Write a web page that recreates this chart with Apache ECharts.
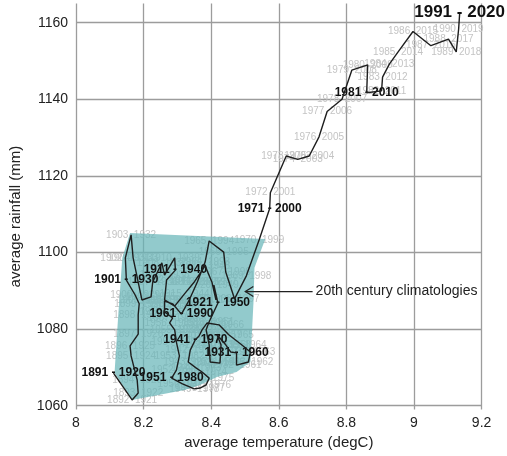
<!DOCTYPE html>
<html>
<head>
<meta charset="utf-8">
<script src="https://cdn.jsdelivr.net/npm/echarts@6/dist/echarts.min.js"></script>
<style>
html,body{margin:0;padding:0;background:#fff;}
#c{width:507px;height:456px;}
</style>
</head>
<body>
<div id="c"></div>
<script>
// start years of the 30-year climatologies (1891-1920 ... 1991-2020)
const startYears = [];
for (let y = 1891; y <= 1991; y++) startYears.push(y);

// average temperature (degC) of each 30-year period
const temp = [
  8.111, 8.166, 8.184, 8.181, 8.163, 8.160, 8.184, 8.184, 8.187, 8.175,
  8.149, 8.146, 8.163, 8.169, 8.195, 8.222, 8.227, 8.254, 8.262, 8.292,
  8.294, 8.268, 8.262, 8.292, 8.321, 8.350, 8.382, 8.402, 8.414, 8.408,
  8.420, 8.394, 8.385, 8.394, 8.397, 8.426, 8.429, 8.417, 8.443, 8.458,
  8.475, 8.475, 8.510, 8.516, 8.490, 8.452, 8.423, 8.388, 8.373, 8.364,
  8.353, 8.338, 8.332, 8.356, 8.373, 8.394, 8.385, 8.367, 8.350, 8.315,
  8.283, 8.297, 8.306, 8.297, 8.292, 8.277, 8.286, 8.262, 8.262, 8.286,
  8.312, 8.335, 8.359, 8.382, 8.394, 8.437, 8.443, 8.469, 8.504, 8.542,
  8.573, 8.575, 8.622, 8.656, 8.690, 8.719, 8.743, 8.787, 8.816, 8.863,
  8.860, 8.904, 8.907, 8.927, 8.953, 8.997, 9.050, 9.102, 9.125, 9.132,
  9.135
];

// average rainfall (mm) of each 30-year period
const rain = [
  1068.5, 1061.5, 1063.3, 1066.7, 1073.0, 1075.6, 1078.7, 1083.7, 1086.6, 1088.9,
  1092.8, 1098.6, 1104.6, 1098.6, 1087.6, 1088.4, 1092.3, 1097.3, 1094.1, 1098.6,
  1095.4, 1092.8, 1087.6, 1086.0, 1089.2, 1092.3, 1096.5, 1092.3, 1087.6, 1091.5,
  1086.8, 1081.9, 1079.8, 1075.9, 1071.4, 1071.1, 1075.9, 1078.5, 1075.9, 1074.0,
  1073.8, 1070.6, 1071.4, 1074.0, 1075.9, 1078.5, 1081.1, 1081.6, 1079.8, 1078.2,
  1077.2, 1074.5, 1071.4, 1069.8, 1068.8, 1067.2, 1065.4, 1064.6, 1064.4, 1065.7,
  1067.2, 1069.3, 1073.0, 1076.6, 1079.8, 1081.6, 1082.9, 1084.5, 1087.3, 1086.6,
  1083.9, 1087.6, 1092.3, 1097.5, 1103.0, 1100.1, 1094.9, 1087.9, 1093.9, 1103.3,
  1111.5, 1115.6, 1125.2, 1124.3, 1125.2, 1130.2, 1136.8, 1140.0, 1147.6, 1149.0,
  1141.7, 1142.2, 1145.8, 1149.2, 1152.4, 1157.7, 1154.0, 1155.7, 1152.4, 1158.3,
  1162.3
];

// shaded envelope of the 20th century climatologies
const hullTemp = [8.160, 8.560, 8.528, 8.525, 8.516, 8.475, 8.417, 8.367, 8.321, 8.166, 8.114, 8.125, 8.137];
const hullRain = [1105.1, 1103.5, 1096.0, 1086.8, 1071.4, 1068.8, 1067.5, 1065.4, 1064.1, 1061.5, 1068.5, 1083.7, 1098.6];

// annotation arrow
const arrowFrom = [8.700, 1089.8];
const arrowTo = [8.501, 1089.8];
const arrowText = '20th century climatologies';

// axis ticks
const xTicks = [8, 8.2, 8.4, 8.6, 8.8, 9, 9.2];
const yTicks = [1060, 1080, 1100, 1120, 1140, 1160];

const FONT = "'Liberation Sans', Arial, Helvetica, sans-serif";

const points = temp.map((t, i) => [t, rain[i], startYears[i]]);
const minorPts = points.filter(p => (p[2] - 1891) % 10 !== 0);
const majorPts = points.filter(p => (p[2] - 1891) % 10 === 0);

const chart = echarts.init(document.getElementById('c'), null, {renderer: 'canvas'});

chart.setOption({
  animation: false,
  backgroundColor: '#fff',
  grid: {left: 70, right: 25.4, top: 3.55, bottom: 46.5},
  xAxis: {
    type: 'value', min: 8, max: 9.2,
    axisLine: {show: false}, axisTick: {show: false, customValues: xTicks},
    axisLabel: {customValues: xTicks, color: '#222', fontSize: 14, fontFamily: FONT, margin: 7,
      formatter: v => String(v)},
    splitLine: {show: true, lineStyle: {color: '#9c9c9c', width: 1.3}},
    name: 'average temperature (degC)', nameLocation: 'middle', nameGap: 26,
    nameTextStyle: {color: '#222', fontSize: 15, fontFamily: FONT}
  },
  yAxis: {
    type: 'value', min: 1059, max: 1165,
    axisLine: {show: false}, axisTick: {show: false, customValues: yTicks},
    axisLabel: {customValues: yTicks, color: '#222', fontSize: 14, fontFamily: FONT, margin: 8,
      formatter: v => String(v)},
    splitLine: {show: true, lineStyle: {color: '#9c9c9c', width: 1.3}},
    name: 'average rainfall (mm)', nameLocation: 'middle', nameGap: 53, nameRotate: 90,
    nameTextStyle: {color: '#222', fontSize: 15, fontFamily: FONT, padding: [0, 20, 0, 0]}
  },
  series: [
    {
      type: 'custom', name: 'years', silent: true,
      data: minorPts,
      encode: {x: 0, y: 1},
      renderItem: function (params, api) {
        const p = api.coord([api.value(0), api.value(1)]);
        const y = api.value(2);
        return {
          type: 'text', x: p[0], y: p[1],
          style: {
            text: y + '  ' + (y + 29), fill: '#c4c4c4',
            font: '10px ' + FONT, align: 'center', verticalAlign: 'middle'
          }
        };
      }
    },
    {
      type: 'custom', name: 'hull', silent: true,
      data: [[hullTemp[0], hullRain[0]]],
      encode: {x: 0, y: 1},
      renderItem: function (params, api) {
        const pts = hullTemp.map((t, i) => api.coord([t, hullRain[i]]));
        return {type: 'polygon', shape: {points: pts}, style: {fill: 'rgba(104,182,184,0.72)'}};
      }
    },
    {
      type: 'line', name: 'path', silent: true,
      data: points.map(p => [p[0], p[1]]),
      symbol: 'none', clip: false,
      lineStyle: {color: '#1e1e1e', width: 1.4}
    },
    {
      type: 'custom', name: 'decades', silent: true,
      data: majorPts,
      encode: {x: 0, y: 1},
      renderItem: function (params, api) {
        const p = api.coord([api.value(0), api.value(1)]);
        const y = api.value(2);
        const big = y === 1991;
        return {
          type: 'text', x: p[0], y: p[1] + (big ? -2 : 0),
          style: {
            text: y + ' - ' + (y + 29), fill: '#111',
            font: 'bold ' + (big ? 17 : 12) + 'px ' + FONT,
            align: 'center', verticalAlign: 'middle'
          }
        };
      }
    },
    {
      type: 'custom', name: 'arrow', silent: true,
      data: [[arrowFrom[0], arrowFrom[1], arrowTo[0], arrowTo[1]]],
      encode: {x: [0, 2], y: [1, 3]},
      renderItem: function (params, api) {
        const a = api.coord([api.value(0), api.value(1)]);
        const b = api.coord([api.value(2), api.value(3)]);
        return {
          type: 'group',
          children: [
            {type: 'line', shape: {x1: a[0], y1: a[1], x2: b[0], y2: b[1]},
             style: {stroke: '#222', lineWidth: 1.3}},
            {type: 'polyline', shape: {points: [[b[0] + 8, b[1] - 5], [b[0], b[1]], [b[0] + 8, b[1] + 5]]},
             style: {stroke: '#222', lineWidth: 1.3, fill: null}},
            {type: 'text', x: a[0] + 3, y: a[1],
             style: {text: arrowText, fill: '#222', font: '14px ' + FONT, align: 'left', verticalAlign: 'middle'}}
          ]
        };
      }
    }
  ]
});
</script>
</body>
</html>
